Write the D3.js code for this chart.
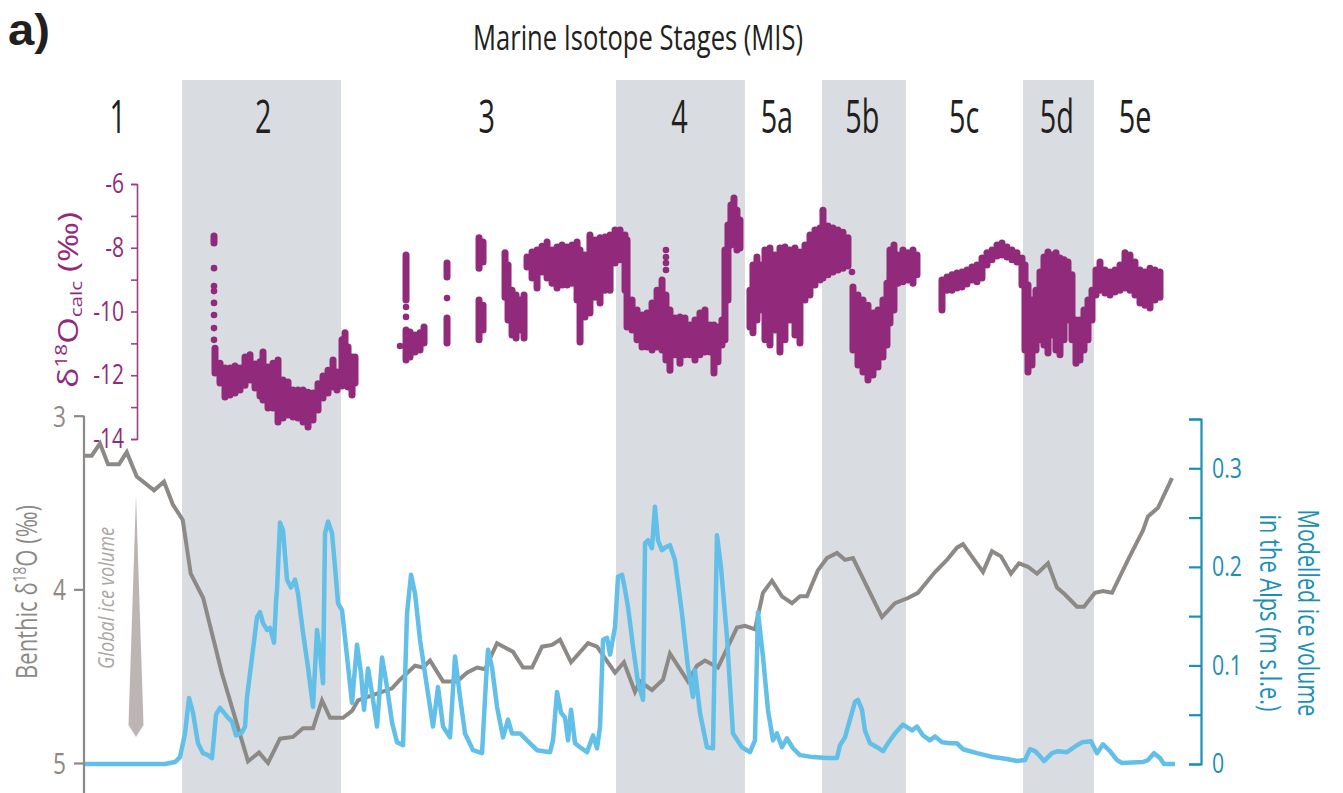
<!DOCTYPE html>
<html><head><meta charset="utf-8">
<script src="https://cdn.jsdelivr.net/npm/d3@7"></script>
<style>
html,body{margin:0;padding:0;background:#fff;}
svg text{font-family:"Open Sans","Noto Sans",sans-serif;}
</style></head><body>
<svg id="chart" width="1343" height="793"></svg>
<script>
// Marine isotope stages: names, label positions (ka) and glacial (shaded) intervals (ka)
const stageNames = ["1","2","3","4","5a","5b","5c","5d","5e"];
const stageLabelAge = [3.6, 19.6, 44.2, 65.4, 76.1, 85.5, 96.7, 106.9, 115.5];
const glacialBands = [[10.67, 28.16], [58.40, 72.59], [81.06, 90.30], [103.17, 110.98]];

// Benthic δ18O stack (‰) against age (ka)
const benthicAge = [0,0.74,1.65,2.53,3.74,4.59,5.69,7.59,8.69,9.65,10.75,11.63,13.0,15.04,17.93,19.14,20.13,21.45,22.88,23.98,25.08,26.07,26.95,28.38,29.37,30.03,31.02,32.12,33.77,34.65,36.30,37.18,37.95,39.38,40.92,42.02,43.12,44.0,45.32,47.08,48.18,49.17,50.27,51.37,52.25,53.46,55.33,56.32,58.30,59.28,60.49,61.04,62.36,63.57,64.34,66.32,67.31,68.19,69.62,71.71,72.59,73.69,74.57,75.56,76.66,77.76,78.64,79.41,80.62,81.61,82.71,83.59,84.47,87.66,89.09,90.52,91.62,93.49,94.81,95.91,96.57,98.77,99.76,100.75,101.85,102.73,103.72,104.71,105.92,106.91,107.79,109.11,109.88,111.09,111.97,112.96,114.72,116.37,116.92,118.02,119.56];
const benthicD18O = [3.23,3.23,3.16,3.28,3.28,3.21,3.35,3.43,3.38,3.51,3.60,3.91,4.05,4.48,4.99,4.94,5.00,4.86,4.85,4.80,4.80,4.64,4.74,4.74,4.70,4.64,4.62,4.60,4.57,4.52,4.44,4.45,4.41,4.53,4.53,4.48,4.45,4.46,4.31,4.36,4.45,4.45,4.33,4.32,4.29,4.42,4.31,4.33,4.48,4.42,4.59,4.53,4.58,4.52,4.37,4.53,4.44,4.41,4.45,4.22,4.21,4.23,4.02,3.95,4.04,4.08,4.04,4.04,3.89,3.82,3.79,3.83,3.82,4.16,4.08,4.05,4.02,3.90,3.83,3.76,3.74,3.90,3.78,3.81,3.91,3.85,3.87,3.91,3.85,3.99,4.03,4.10,4.10,4.02,4.01,4.02,3.83,3.66,3.58,3.53,3.36];

// Modelled Alpine ice volume (m sea-level equivalent) against age (ka)
const iceAge = [0,8.80,9.9,10.45,11.0,11.44,11.88,12.43,12.98,13.53,13.97,14.41,14.85,15.29,15.62,16.17,16.61,17.27,17.60,17.82,18.37,18.92,19.25,19.58,20.02,20.35,20.79,21.01,21.12,21.45,21.78,22.22,22.66,23.10,23.43,23.98,24.53,25.08,25.52,25.85,26.18,26.40,26.73,27.17,27.50,27.83,28.27,28.82,29.37,29.92,30.36,30.69,31.13,31.68,32.12,32.67,33.22,33.77,34.32,34.98,35.42,35.86,36.30,36.85,37.62,38.28,38.83,39.38,40.15,40.70,41.25,41.80,42.68,43.67,44.11,44.33,44.77,45.32,45.98,46.53,46.97,47.85,48.95,49.72,51.15,51.48,51.92,52.36,52.80,53.13,53.46,53.90,54.45,55.22,55.88,56.32,56.65,56.98,57.42,57.75,58.30,58.63,59.07,59.40,59.73,60.28,60.83,61.38,61.60,61.93,62.36,62.69,63.02,63.46,63.90,64.34,64.89,65.66,66.32,66.87,67.09,67.64,68.41,69.07,69.51,69.95,70.61,71.27,72.26,73.14,73.69,74.02,74.57,75.12,75.67,76.11,76.66,77.21,77.87,78.64,80.07,81.61,82.71,83.04,83.59,84.14,84.69,85.02,85.46,85.79,86.34,87.11,87.77,88.32,89.09,89.97,90.96,91.51,92.17,92.94,93.49,94.26,95.14,95.91,96.57,98.11,99.87,101.41,102.51,103.39,103.94,104.49,104.93,105.48,106.36,107.02,108.01,109.11,109.66,110.65,111.31,111.97,112.74,113.51,114.06,116.37,116.92,117.58,118.24,118.68,119.89];
const iceVolume = [0,0,0.002,0.007,0.031,0.067,0.052,0.021,0.011,0.009,0.006,0.050,0.057,0.052,0.048,0.043,0.029,0.032,0.038,0.068,0.108,0.149,0.154,0.143,0.136,0.138,0.123,0.164,0.177,0.245,0.237,0.187,0.179,0.187,0.173,0.133,0.098,0.058,0.136,0.113,0.082,0.234,0.246,0.234,0.200,0.163,0.156,0.109,0.062,0.121,0.092,0.055,0.097,0.065,0.038,0.108,0.078,0.042,0.022,0.019,0.153,0.192,0.173,0.126,0.078,0.038,0.078,0.038,0.027,0.109,0.068,0.031,0.014,0.011,0.085,0.116,0.098,0.058,0.027,0.045,0.031,0.031,0.021,0.014,0.012,0.024,0.073,0.052,0.047,0.024,0.055,0.021,0.017,0.012,0.029,0.016,0.038,0.126,0.128,0.111,0.139,0.190,0.192,0.177,0.159,0.119,0.082,0.065,0.224,0.227,0.219,0.261,0.227,0.217,0.220,0.222,0.207,0.153,0.098,0.068,0.095,0.052,0.017,0.016,0.232,0.200,0.129,0.031,0.017,0.012,0.024,0.154,0.109,0.055,0.024,0.031,0.017,0.026,0.016,0.009,0.007,0.006,0.006,0.019,0.027,0.045,0.063,0.065,0.055,0.034,0.021,0.017,0.013,0.021,0.031,0.040,0.034,0.038,0.029,0.024,0.028,0.022,0.021,0.021,0.015,0.011,0.007,0.005,0.003,0.004,0.015,0.013,0.009,0.003,0.011,0.013,0.012,0.019,0.022,0.023,0.011,0.020,0.013,0.004,0.001,0.002,0.004,0.011,0.006,0,0];

// Speleothem δ18O_calc (‰): spread of the samples at each age [age ka, lowest, highest]
const calcRanges = [
  [14.19,-7.85,-7.63],[14.30,-11.93,-11.15],[14.85,-12.24,-11.62],[15.40,-12.68,-11.77],[15.95,-12.62,-11.77],[16.50,-12.56,-11.71],[17.05,-12.46,-11.77],[17.60,-12.31,-11.43],[18.15,-12.15,-11.36],[18.70,-12.40,-11.65],[19.25,-12.65,-11.58],[19.58,-12.78,-11.27],[20.13,-13.03,-11.74],[20.68,-13.03,-11.62],[21.23,-13.47,-11.52],[21.78,-13.34,-12.15],[22.33,-13.25,-12.21],[22.88,-13.31,-12.46],[23.43,-13.34,-12.46],[23.98,-13.47,-12.46],[24.53,-13.62,-12.53],[25.08,-13.40,-12.56],[25.63,-13.09,-12.27],[26.18,-12.71,-12.02],[26.73,-12.56,-11.84],[27.28,-12.37,-11.52],[27.72,-12.46,-11.90],[28.27,-12.34,-10.89],[28.60,-12.15,-10.67],[28.93,-12.37,-11.11],[29.37,-12.62,-11.43],[29.70,-12.24,-11.43],
  [35.31,-9.64,-8.23],[35.31,-11.52,-10.58],[35.75,-11.43,-10.64],[36.30,-11.27,-10.74],[36.85,-11.21,-10.67],[37.29,-10.99,-10.49],
  [39.82,-8.92,-8.48],[39.82,-10.99,-10.20],[43.34,-8.64,-7.69],[43.34,-10.89,-9.64],[43.78,-8.45,-7.82],[43.78,-10.58,-9.80],
  [46.20,-9.55,-8.16],[46.53,-10.27,-8.54],[46.97,-10.74,-9.33],[47.41,-10.83,-9.48],[47.85,-10.58,-9.64],[48.29,-10.83,-9.48],
  [48.62,-8.60,-8.29],[49.17,-8.95,-8.13],[49.72,-9.26,-8.07],[50.27,-8.76,-7.95],[50.82,-8.95,-7.82],[51.37,-9.11,-8.07],[51.92,-9.26,-7.98],[52.47,-9.17,-7.91],[53.02,-9.17,-7.98],[53.57,-9.11,-7.91],[54.12,-9.64,-7.82],[54.45,-10.96,-8.07],[54.99,-10.17,-8.23],[55.54,-10.05,-7.60],[56.09,-9.55,-7.76],[56.65,-9.73,-7.69],[57.20,-9.33,-7.66],[57.75,-9.33,-7.60],[58.30,-8.48,-7.44],[58.85,-8.38,-7.44],[59.40,-9.33,-7.60],[59.62,-10.49,-7.76],
  [60.17,-10.58,-9.64],[60.72,-10.89,-9.95],[61.27,-11.11,-10.11],[61.82,-11.11,-10.05],[62.37,-11.21,-9.73],[62.92,-11.11,-9.33],[63.47,-11.21,-9.01],[63.90,-11.52,-9.48],[64.34,-11.84,-9.95],[64.89,-11.36,-10.20],[65.44,-11.62,-10.17],[65.99,-11.36,-10.20],[66.54,-11.36,-10.42],[67.09,-11.52,-10.27],[67.64,-11.36,-10.05],[68.19,-11.27,-9.95],[68.74,-11.27,-10.42],[69.18,-11.93,-10.42],[69.62,-11.58,-10.49],[70.06,-11.05,-10.27],[70.39,-10.89,-8.07],[70.72,-9.64,-7.29],[71.05,-7.91,-6.66],[71.38,-7.76,-6.44],[71.71,-8.07,-6.82],[72.04,-8.01,-7.13],
  [73.14,-10.49,-9.33],[73.47,-10.67,-8.54],[73.91,-10.27,-8.29],[74.24,-9.95,-8.54],[74.79,-10.89,-8.07],[75.34,-11.05,-8.01],[75.89,-10.58,-8.23],[76.44,-11.27,-8.01],[76.99,-10.89,-7.98],[77.54,-10.27,-8.07],[78.09,-10.74,-8.01],[78.64,-10.99,-8.13],[79.19,-9.64,-7.91],[79.74,-9.48,-7.60],[80.29,-9.17,-7.44],[80.84,-9.01,-7.38],[81.17,-8.95,-6.82],[81.72,-8.85,-7.32],[82.27,-8.76,-7.38],[82.82,-8.70,-7.44],[83.37,-8.64,-7.51],[83.92,-8.57,-7.69],
  [84.47,-11.21,-9.23],[85.02,-11.68,-9.48],[85.57,-11.90,-9.64],[86.12,-12.15,-9.80],[86.67,-11.99,-10.05],[87.22,-11.74,-9.95],[87.77,-11.43,-9.64],[88.21,-11.05,-9.11],[88.54,-10.36,-8.07],[88.98,-9.95,-7.91],[89.42,-9.11,-8.23],[89.97,-9.07,-8.07],[90.52,-9.01,-8.16],[91.07,-9.11,-8.07],[91.51,-8.85,-8.23],
  [94.26,-9.95,-9.01],[94.81,-9.33,-8.92],[95.36,-9.33,-8.85],[95.91,-9.26,-8.79],[96.46,-9.23,-8.76],[97.01,-9.14,-8.70],[97.56,-9.01,-8.60],[98.11,-9.07,-8.54],[98.66,-8.95,-8.32],[99.21,-8.54,-8.16],[99.76,-8.38,-8.07],[100.31,-8.26,-7.91],[100.86,-8.23,-7.85],[101.41,-8.29,-7.98],[101.96,-8.38,-8.07],[102.51,-8.45,-8.16],[103.06,-9.17,-8.32],
  [103.39,-11.21,-8.54],[103.72,-11.90,-9.17],[104.16,-11.68,-9.64],[104.60,-11.21,-9.33],[105.04,-10.89,-8.76],[105.48,-11.05,-8.29],[105.92,-11.30,-8.13],[106.36,-10.74,-8.23],[106.80,-11.21,-8.16],[107.24,-11.36,-8.32],[107.68,-10.89,-8.38],[108.12,-10.27,-8.45],[108.56,-10.89,-8.85],[109.00,-11.62,-10.27],[109.44,-11.52,-10.27],[109.88,-11.21,-9.95],[110.32,-10.89,-9.64],[110.76,-10.27,-9.33],
  [111.20,-9.48,-8.70],[111.64,-9.33,-8.45],[112.19,-9.42,-8.70],[112.74,-9.48,-8.76],[113.29,-9.39,-8.70],[113.84,-9.33,-8.54],[114.39,-9.26,-8.16],[114.94,-9.33,-8.23],[115.49,-9.48,-8.45],[116.04,-9.73,-8.70],[116.59,-9.80,-8.76],[117.14,-9.89,-8.64],[117.69,-9.64,-8.70],[118.24,-9.55,-8.76]
];
// Isolated speleothem samples [age ka, δ18O_calc ‰]
const calcDots = [[14.19,-8.64],[14.19,-9.20],[14.19,-9.36],[14.19,-9.73],[14.19,-10.11],[14.19,-10.52],[14.19,-10.89],[34.65,-11.08],[35.31,-9.86],[35.31,-10.17],[39.82,-9.58],[63.90,-8.07],[63.90,-8.29],[63.90,-8.48],[63.90,-8.70],[84.36,-8.76]];

const calcTicks = [-6,-7,-8,-9,-10,-11,-12,-13,-14];
const benthicTicks = [3,4,5];
const iceTicks = [0,0.05,0.1,0.15,0.2,0.25,0.3,0.35];
const iceLabelled = [0,0.1,0.2,0.3];

const W = 1343, H = 793;
const colors = {band:"#d9dde1", calc:"#922a7b", calcAxis:"#9c3f89", benthic:"#8c8987", ice:"#62bfe7", iceAxis:"#1b8fb6", ink:"#231f20", arrow:"#bdb5b3", arrowText:"#a9a6a4"};
const NARROW = 0.74; // horizontal squeeze that gives the condensed face

const svg = d3.select("#chart");
svg.append("rect").attr("width",W).attr("height",H).attr("fill","#fff");

const x = d3.scaleLinear().domain([0,120]).range([85,1176]);
const yBenthic = d3.scaleLinear().domain([3,5]).range([415.7,763]);
const yCalc = d3.scaleLinear().domain([-6,-14]).range([184,439]);
const yIce = d3.scaleLinear().domain([0,0.35]).range([764,419]);

// Place a text at (px,py) with optional rotation; squeeze it to a given run length or factor
function label(parent, px, py, opts) {
  const t = parent.append("text").attr("font-size", opts.size).attr("fill", opts.fill)
    .attr("text-anchor", opts.anchor || "middle");
  if (opts.family) t.style("font-family", opts.family);
  if (opts.weight) t.attr("font-weight", opts.weight);
  if (opts.italic) t.attr("font-style", "italic");
  if (opts.build) opts.build(t); else t.text(opts.text);
  const rot = opts.rotate || 0;
  let f = opts.squeeze || NARROW;
  if (opts.length) f = opts.length / t.node().getComputedTextLength();
  t.attr("transform", `translate(${px},${py}) rotate(${rot}) scale(${f},1)`);
  return t;
}
// Squeeze the tick labels of an axis around their anchor
function squeezeTicks(axisG, f) {
  axisG.selectAll(".tick text").each(function() {
    const s = d3.select(this);
    const tx = +s.attr("x") || 0;
    s.attr("x", 0).attr("transform", `translate(${tx},0) scale(${f},1)`);
  });
}

// glacial stage shading
svg.append("g").selectAll("rect").data(glacialBands).join("rect")
  .attr("x",d=>x(d[0])).attr("width",d=>x(d[1])-x(d[0]))
  .attr("y",80).attr("height",H-80).attr("fill",colors.band);

// panel letter, title and stage labels
label(svg, 8, 45, {text:"a)", size:44, weight:"bold", family:"'Liberation Sans', Arial, sans-serif", fill:colors.ink, anchor:"start", length:42});
label(svg, 638, 50, {text:"Marine Isotope Stages (MIS)", size:34, fill:colors.ink, length:330});
const gStages = svg.append("g");
stageNames.forEach((s,i) => label(gStages, x(stageLabelAge[i]), 133, {text:s, size:45, fill:colors.ink, squeeze:0.64}));

// speleothem δ18O_calc
const gCalc = svg.append("g");
gCalc.selectAll("line").data(calcRanges).join("line")
  .attr("x1",d=>x(d[0])).attr("x2",d=>x(d[0]))
  .attr("y1",d=>yCalc(d[2])).attr("y2",d=>yCalc(d[1]))
  .attr("stroke",colors.calc).attr("stroke-width",7).attr("stroke-linecap","round");
gCalc.selectAll("circle").data(calcDots).join("circle")
  .attr("cx",d=>x(d[0])).attr("cy",d=>yCalc(d[1])).attr("r",3.3).attr("fill",colors.calc);

// δ18O_calc axis
const calcAxis = svg.append("g").attr("transform","translate(137,0)")
  .call(d3.axisLeft(yCalc).tickValues(calcTicks).tickSize(6).tickPadding(7)
    .tickFormat(d=>d%2===0 ? String(d) : ""));
calcAxis.selectAll("path,line").attr("stroke",colors.calcAxis).attr("stroke-width",1.6);
calcAxis.select(".domain").attr("fill","none");
calcAxis.selectAll("text").attr("fill",colors.calc).attr("font-size",27);
squeezeTicks(calcAxis, 0.78);

label(svg, 78, 300, {size:28, fill:colors.calc, rotate:-90, length:176, build:t=>{
  t.append("tspan").text("δ");
  t.append("tspan").attr("font-size",17).attr("dy",-11).text("18");
  t.append("tspan").attr("dy",11).text("O");
  t.append("tspan").attr("font-size",17).attr("dy",4).text("calc");
  t.append("tspan").attr("dy",-4).text(" (‰)");
}});

// benthic δ18O axis
const benthicAxis = svg.append("g").attr("transform","translate(84,0)")
  .call(d3.axisLeft(yBenthic).tickValues(benthicTicks).tickSize(10).tickSizeOuter(0).tickPadding(8).tickFormat(d3.format("d")));
benthicAxis.select(".domain").remove();
benthicAxis.append("line").attr("y1",yBenthic(3)).attr("y2",H);
benthicAxis.selectAll("line").attr("stroke",colors.benthic).attr("stroke-width",2.2);
benthicAxis.selectAll("text").attr("fill",colors.benthic).attr("font-size",29).attr("dy","0.36em");
squeezeTicks(benthicAxis, 0.78);

label(svg, 37, 592, {size:29, fill:colors.benthic, rotate:-90, length:174, build:t=>{
  t.append("tspan").text("Benthic δ");
  t.append("tspan").attr("font-size",18).attr("dy",-11).text("18");
  t.append("tspan").attr("dy",11).text("O (‰)");
}});

// ice volume axis
const iceAxis = svg.append("g").attr("transform","translate(1201,0)")
  .call(d3.axisRight(yIce).tickValues(iceTicks).tickSizeInner(-12).tickSizeOuter(-12).tickPadding(11)
    .tickFormat(d=>iceLabelled.some(v=>Math.abs(v-d)<1e-9) ? String(+d.toFixed(2)) : ""));
iceAxis.selectAll("path,line").attr("stroke",colors.iceAxis).attr("stroke-width",2.2);
iceAxis.select(".domain").attr("fill","none");
iceAxis.selectAll("text").attr("fill",colors.iceAxis).attr("font-size",28);
squeezeTicks(iceAxis, 0.76);

label(svg, 1298, 613, {text:"Modelled ice volume", size:29, fill:colors.iceAxis, rotate:90, length:207});
label(svg, 1260, 613, {text:"in the Alps (m s.l.e.)", size:29, fill:colors.iceAxis, rotate:90, length:197});

// benthic and ice-volume curves
svg.append("path").datum(d3.zip(benthicAge,benthicD18O))
  .attr("d",d3.line().x(d=>x(d[0])).y(d=>yBenthic(d[1])))
  .attr("fill","none").attr("stroke",colors.benthic).attr("stroke-width",4);
svg.append("path").datum(d3.zip(iceAge,iceVolume))
  .attr("d",d3.line().x(d=>x(d[0])).y(d=>yIce(d[1])))
  .attr("fill","none").attr("stroke",colors.ice).attr("stroke-width",4.5).attr("stroke-linejoin","round");

// global ice volume arrow
svg.append("path").attr("d","M136,495 L143.5,725 L136,737 L128.5,725 Z").attr("fill",colors.arrow);
label(svg, 114, 598, {text:"Global ice volume", size:22, italic:true, fill:colors.arrowText, rotate:-90, length:142});
</script>
</body></html>
